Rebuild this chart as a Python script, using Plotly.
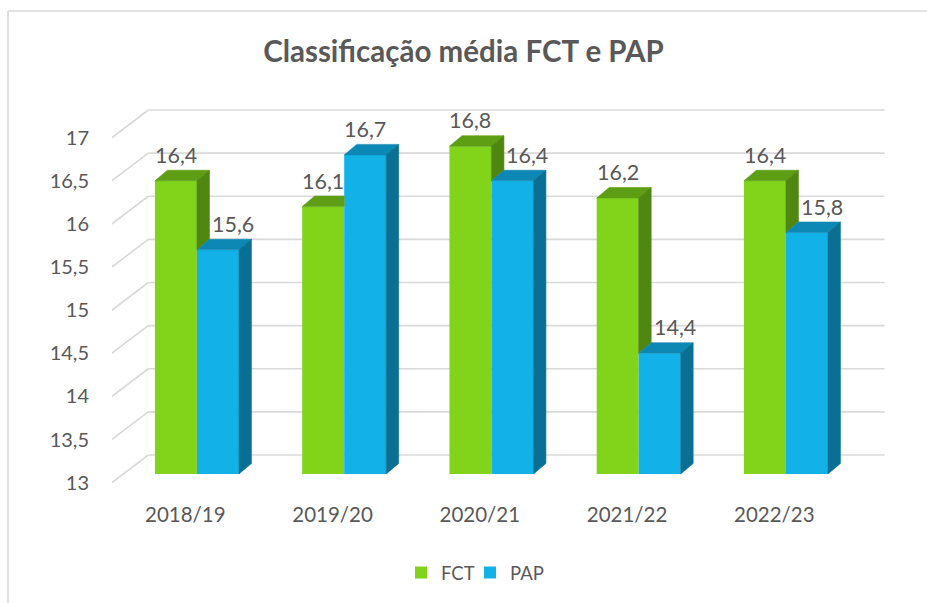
import plotly.graph_objects as go

# ---- data ----
categories = ["2018/19", "2019/20", "2020/21", "2021/22", "2022/23"]
fct = [16.4, 16.1, 16.8, 16.2, 16.4]
pap = [15.6, 16.7, 16.4, 14.4, 15.8]
value_ticks = [13, 13.5, 14, 14.5, 15, 15.5, 16, 16.5, 17]

# ---- page and projection geometry (pixels) ----
W, H = 927, 603
ML, MR, MT, MB = 112, 38, 77, 116
BASE = 13
CAT_PX = 147.25          # pixels per category on the bar plane
VAL_PX = 86.25           # pixels per value unit
LEFT_EDGE_PX = 123.3     # pixel x of the left floor edge on the bar plane
BASE_PX = 474            # pixel y of the floor on the bar plane
BAR_W = 42 / CAT_PX

# oblique offsets: bar depth, back wall, front floor edge (in data units)
DX, DY = 12.5 / CAT_PX, 10.5 / VAL_PX
WX, WY = 25 / CAT_PX, 19 / VAL_PX
FX, FY = -11.6 / CAT_PX, -8.7 / VAL_PX

x_range = [-0.5 + (ML - LEFT_EDGE_PX) / CAT_PX, -0.5 + (W - MR - LEFT_EDGE_PX) / CAT_PX]
y_range = [BASE + (BASE_PX - (H - MB)) / VAL_PX, BASE + (BASE_PX - MT) / VAL_PX]

TEXT = "#595959"
GRID = "#D9D9D9"
FONT = "Lato"
GREEN = dict(front="#81D41A", top="#5E9E14", side="#4F8711")
BLUE = dict(front="#12B2E8", top="#0D87B4", side="#0A7093")

fig = go.Figure()

# front faces
fig.add_trace(go.Bar(
    name="FCT", x=[i - BAR_W / 2 for i in range(len(categories))],
    y=[v - BASE for v in fct], base=BASE, width=BAR_W,
    marker=dict(color=GREEN["front"], line=dict(width=0)), legend="legend",
))
fig.add_trace(go.Bar(
    name="PAP", x=[i + BAR_W / 2 for i in range(len(categories))],
    y=[v - BASE for v in pap], base=BASE, width=BAR_W,
    marker=dict(color=BLUE["front"], line=dict(width=0)), legend="legend2",
))


def poly(xs, ys, color):
    fig.add_trace(go.Scatter(
        x=xs + [xs[0]], y=ys + [ys[0]], mode="lines", fill="toself",
        fillcolor=color, line=dict(color=color, width=0.6),
        hoverinfo="skip", showlegend=False,
    ))


# top and side faces; the green box is partly hidden by the blue box beside it
for i in range(len(categories)):
    g, b = fct[i], pap[i]
    gl, gr = i - BAR_W, i
    bl, br = i, i + BAR_W
    if g >= b:
        poly([gl, gr, gr + DX, gl + DX], [g, g, g + DY, g + DY], GREEN["top"])
        low = max(BASE, b)
        poly([gr, gr, gr + DX, gr + DX], [low, g, g + DY, low + DY], GREEN["side"])
    else:
        poly([gl, gr, gr, gl + DX], [g, g, g + DY, g + DY], GREEN["top"])
    poly([bl, br, br + DX, bl + DX], [b, b, b + DY, b + DY], BLUE["top"])
    poly([br, br, br + DX, br + DX], [BASE, b, b + DY, BASE + DY], BLUE["side"])

# empty traces so the label axes (front edge of floor and side wall) are drawn
fig.add_trace(go.Scatter(x=[None], y=[None], xaxis="x2", yaxis="y",
                         showlegend=False, hoverinfo="skip"))
fig.add_trace(go.Scatter(x=[None], y=[None], xaxis="x", yaxis="y2",
                         showlegend=False, hoverinfo="skip"))

# gridlines on the back wall and the left wall
shapes = []
for v in value_ticks:
    shapes.append(dict(type="line", xref="x", yref="y", layer="below",
                       x0=-0.5 + WX, y0=v + WY, x1=len(categories) - 0.5 + WX, y1=v + WY,
                       line=dict(color=GRID, width=1.7)))
    shapes.append(dict(type="line", xref="x", yref="y", layer="below",
                       x0=-0.5 + FX, y0=v + FY, x1=-0.5 + WX, y1=v + WY,
                       line=dict(color=GRID, width=1.7)))

# chart frame
pw, ph = W - ML - MR, H - MT - MB
def px_to_paper(px, py):
    return (px - ML) / pw, (H - MB - py) / ph
fx0, fy0 = px_to_paper(8, 11)
fx1, fy1 = px_to_paper(W + 2, H + 2)
shapes.append(dict(type="line", xref="paper", yref="paper", x0=fx0, y0=fy0, x1=fx1, y1=fy0,
                   line=dict(color=GRID, width=1.6)))
shapes.append(dict(type="line", xref="paper", yref="paper", x0=fx0, y0=fy0, x1=fx0, y1=fy1,
                   line=dict(color=GRID, width=1.6)))

# value labels
annotations = []
for i in range(len(categories)):
    g, b = fct[i], pap[i]
    annotations.append(dict(x=i - BAR_W / 2, y=g, xref="x", yref="y", showarrow=False,
                            text=f"{g:.1f}".replace(".", ","), yanchor="bottom", yshift=11,
                            font=dict(family=FONT, size=21.5, color=TEXT)))
    annotations.append(dict(x=i + BAR_W / 2, y=b, xref="x", yref="y", showarrow=False,
                            text=f"{b:.1f}".replace(".", ","), yanchor="bottom", yshift=11,
                            xshift=15 if b < g else 0,
                            font=dict(family=FONT, size=21.5, color=TEXT)))

legend_style = dict(orientation="h", xanchor="left", xref="container",
                    y=1 - 573 / H, yanchor="middle", yref="container",
                    bgcolor="rgba(0,0,0,0)",
                    font=dict(family=FONT, size=18.5, color=TEXT))

fig.update_layout(
    width=W, height=H,
    margin=dict(l=ML, r=MR, t=MT, b=MB),
    paper_bgcolor="white", plot_bgcolor="white",
    separators=", ",
    barmode="overlay",
    font=dict(family=FONT, color=TEXT),
    title=dict(text="<b>Classificação média FCT e PAP</b>", x=0.5, xanchor="center",
               xref="container", y=1 - 52 / H, yanchor="middle", yref="container",
               font=dict(family=FONT, size=29.5, color=TEXT)),
    xaxis=dict(range=x_range, visible=False, fixedrange=True),
    yaxis=dict(range=y_range, visible=False, fixedrange=True),
    xaxis2=dict(overlaying="x", anchor="y", side="bottom",
                range=[x_range[0] - FX, x_range[1] - FX],
                tickvals=list(range(len(categories))), ticktext=categories,
                ticks="outside", ticklen=9, tickcolor="rgba(0,0,0,0)",
                showgrid=False, zeroline=False, showline=False, fixedrange=True,
                tickfont=dict(family=FONT, size=20.5, color=TEXT)),
    yaxis2=dict(overlaying="y", anchor="x", side="left",
                range=[y_range[0] - FY, y_range[1] - FY],
                tickvals=value_ticks,
                ticks="outside", ticklen=18, tickcolor="rgba(0,0,0,0)",
                showgrid=False, zeroline=False, showline=False, fixedrange=True,
                tickfont=dict(family=FONT, size=20, color=TEXT)),
    showlegend=True,
    legend=dict(x=401 / W, **legend_style),
    legend2=dict(x=470 / W, **legend_style),
    shapes=shapes,
    annotations=annotations,
)

fig.write_html("out.html")
